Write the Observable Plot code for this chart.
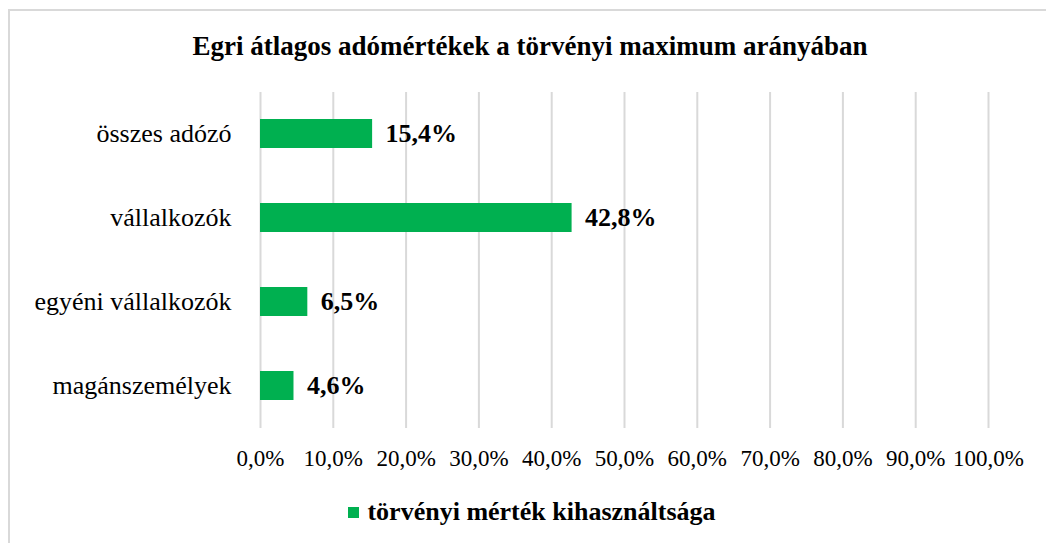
<!DOCTYPE html>
<html>
<head>
<meta charset="utf-8">
<script src="https://cdn.jsdelivr.net/npm/d3@7"></script>
<script src="https://cdn.jsdelivr.net/npm/@observablehq/plot@0.6"></script>
<style>
  html, body { margin: 0; padding: 0; background: #fff; }
  #wrap { position: relative; width: 1046px; height: 543px; overflow: hidden; font-family: "Liberation Serif", "Times New Roman", serif; color: #000; }
  #frame { position: absolute; left: 8px; top: 9px; width: 1100px; height: 600px; border-left: 2px solid #d9d9d9; border-top: 2px solid #d9d9d9; }
  #title { position: absolute; left: 0; width: 1060px; top: 29px; text-align: center; font-weight: bold; font-size: 27px; line-height: 34px; }
  #chart { position: absolute; left: 0; top: 60px; }
  #legend { position: absolute; left: 0; width: 1064px; top: 496px; text-align: center; font-weight: bold; font-size: 26px; line-height: 32px; }
  #legend .sw { display: inline-block; width: 11px; height: 11px; background: #00b050; margin-right: 8px; vertical-align: 2px; }
</style>
</head>
<body>
<div id="wrap">
  <div id="frame"></div>
  <div id="title">Egri átlagos adómértékek a törvényi maximum arányában</div>
  <div id="chart"></div>
  <div id="legend"><span class="sw"></span>törvényi mérték kihasználtsága</div>
</div>
<script>
const categories = ["összes adózó", "vállalkozók", "egyéni vállalkozók", "magánszemélyek"];
const values = [15.4, 42.8, 6.5, 4.6];
const tickValues = [0, 10, 20, 30, 40, 50, 60, 70, 80, 90, 100];
const seriesName = "törvényi mérték kihasználtsága";
const barColor = "#00b050";

const data = categories.map((c, i) => ({cat: c, value: values[i]}));
const fmt = d => d.toFixed(1).replace(".", ",") + "%";

const chart = Plot.plot({
  width: 1046,
  height: 420,
  marginLeft: 260,
  marginRight: 58,
  marginTop: 32,
  marginBottom: 52,
  style: {fontFamily: "'Liberation Serif', 'Times New Roman', serif", color: "#000", background: "transparent", overflow: "visible"},
  x: {domain: [0, 100]},
  y: {domain: categories, paddingInner: 0.65, paddingOuter: 0.325},
  marks: [
    Plot.gridX(tickValues, {stroke: "#d9d9d9", strokeWidth: 2, strokeOpacity: 1}),
    Plot.barX(data, {x: "value", y: "cat", fill: barColor}),
    Plot.text(data, {x: "value", y: "cat", text: d => fmt(d.value), textAnchor: "start", dx: 13, fontWeight: "bold", fontSize: 26, fill: "#000"}),
    Plot.axisX({ticks: tickValues, tickFormat: fmt, tickSize: 0, tickPadding: 21, fontSize: 23, label: null}),
    Plot.axisY({tickSize: 0, tickPadding: 29, fontSize: 26, label: null})
  ]
});
document.getElementById("chart").appendChild(chart);
</script>
</body>
</html>
